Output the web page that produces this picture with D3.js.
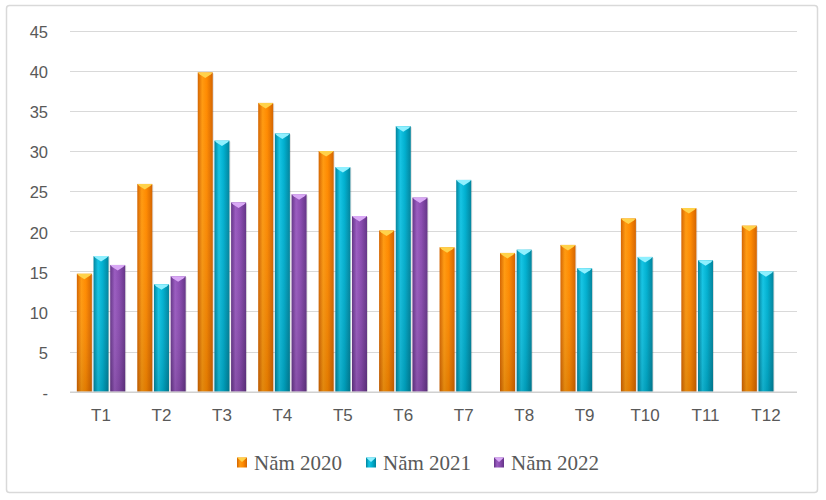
<!DOCTYPE html>
<html>
<head>
<meta charset="utf-8">
<script src="https://cdn.jsdelivr.net/npm/d3@7"></script>
<style>
  body { margin: 0; background: #fff; }
  svg { display: block; }
</style>
</head>
<body>
<svg id="chart"></svg>
<script>
const months = ['T1','T2','T3','T4','T5','T6','T7','T8','T9','T10','T11','T12']
const seriesNames = ['Năm 2020','Năm 2021','Năm 2022']
const y2020 = [14.7, 25.9, 39.8, 36.0, 30.0, 20.1, 18.0, 17.3, 18.3, 21.6, 22.9, 20.7]
const y2021 = [16.9, 13.4, 31.3, 32.2, 28.0, 33.1, 26.4, 17.7, 15.4, 16.8, 16.4, 15.0]
const y2022 = [15.8, 14.4, 23.6, 24.6, 21.9, 24.2, null, null, null, null, null, null]
const yTicks = [0, 5, 10, 15, 20, 25, 30, 35, 40, 45]

const series = [y2020, y2021, y2022]
const width = 826, height = 500

const palette = [
  { light: '#ff9a10', mid: '#ff8a00', dark: '#d46400', cap: '#ffd24a' },
  { light: '#14c4e4', mid: '#00b0d0', dark: '#00839c', cap: '#8ff0ff' },
  { light: '#9a5cc0', mid: '#8a4cb0', dark: '#643487', cap: '#d9a8f5' }
]

const svg = d3.select('#chart')
              .attr('width', width)
              .attr('height', height)

const defs = svg.append('defs')
palette.forEach((c, i) => {
  const g = defs.append('linearGradient').attr('id', 'grad' + i)
                .attr('x1', 0).attr('x2', 1).attr('y1', 0).attr('y2', 0)
  g.append('stop').attr('offset', '0%').attr('stop-color', c.dark)
  g.append('stop').attr('offset', '30%').attr('stop-color', c.light)
  g.append('stop').attr('offset', '60%').attr('stop-color', c.mid)
  g.append('stop').attr('offset', '100%').attr('stop-color', c.dark)
  const v = defs.append('linearGradient').attr('id', 'shade' + i)
                .attr('x1', 0).attr('x2', 0).attr('y1', 0).attr('y2', 1)
  v.append('stop').attr('offset', '0%').attr('stop-color', '#fff').attr('stop-opacity', 0)
  v.append('stop').attr('offset', '100%').attr('stop-color', '#000').attr('stop-opacity', 0.12)
})

// outer frame
svg.append('rect')
   .attr('x', 6.5).attr('y', 5.5)
   .attr('width', 811).attr('height', 487)
   .attr('rx', 3)
   .attr('fill', '#fff')
   .attr('stroke', '#d9d9d9')
   .attr('stroke-width', 1.5)

const x = d3.scaleBand()
            .domain(months)
            .range([70.8, 796.2])
            .paddingInner(0.2)
            .paddingOuter(0.1)

const xs = d3.scaleBand()
             .domain(d3.range(series.length))
             .range([0, x.bandwidth()])
             .paddingInner(0.1)

const y = d3.scaleLinear()
            .domain([0, 45])
            .range([391.7, 30.7])

// grid
svg.append('g')
   .selectAll('line')
   .data(yTicks.filter(d => d > 0))
   .join('line')
   .attr('x1', 70).attr('x2', 797)
   .attr('y1', d => Math.round(y(d)) + 0.5)
   .attr('y2', d => Math.round(y(d)) + 0.5)
   .attr('stroke', '#d9d9d9')
   .attr('stroke-width', 1)

// y axis labels
const yAxis = svg.append('g')
   .attr('transform', 'translate(48,1.5)')
   .call(d3.axisLeft(y).tickValues(yTicks).tickSize(0).tickPadding(0)
           .tickFormat(d => d === 0 ? '-' : d))
yAxis.select('.domain').remove()
yAxis.selectAll('text')
     .attr('font-family', 'Liberation Sans, Arial, sans-serif')
     .attr('font-size', 16.5)
     .attr('fill', '#595959')

// bars
const groups = svg.append('g')
   .selectAll('g')
   .data(months)
   .join('g')
   .attr('transform', d => `translate(${x(d)},0)`)

groups.each(function(m, mi) {
  const g = d3.select(this)
  series.forEach((s, si) => {
    const v = s[mi]
    if (v == null) return
    const bx = xs(si), bw = xs.bandwidth()
    const top = y(v), bottom = y(0)
    g.append('rect')
     .attr('x', bx + 1).attr('y', top + 1)
     .attr('width', bw).attr('height', bottom - top - 1)
     .attr('fill', '#000').attr('opacity', 0.12)
    g.append('rect')
     .attr('x', bx).attr('y', top)
     .attr('width', bw).attr('height', bottom - top)
     .attr('fill', `url(#grad${si})`)
    g.append('rect')
     .attr('x', bx).attr('y', top)
     .attr('width', bw).attr('height', bottom - top)
     .attr('fill', `url(#shade${si})`)
    g.append('path')
     .attr('d', `M${bx},${top} L${bx + bw},${top} L${bx + bw - 2},${top + 2} L${bx + bw / 2},${top + 5.5} L${bx + 2},${top + 2} Z`)
     .attr('fill', palette[si].cap)
  })
})

// baseline
svg.append('line')
   .attr('x1', 70).attr('x2', 797)
   .attr('y1', y(0) + 0.5).attr('y2', y(0) + 0.5)
   .attr('stroke', '#d0d0d0')
   .attr('stroke-width', 1.5)

// x axis labels
const xAxis = svg.append('g')
   .attr('transform', 'translate(0,409)')
   .call(d3.axisBottom(x).tickSize(0).tickPadding(0))
xAxis.select('.domain').remove()
xAxis.selectAll('text')
     .attr('font-family', 'Liberation Sans, Arial, sans-serif')
     .attr('font-size', 17)
     .attr('fill', '#595959')

// legend
const legendX = [237, 366, 494]
const legend = svg.append('g')
   .selectAll('g')
   .data(seriesNames)
   .join('g')
   .attr('transform', (d, i) => `translate(${legendX[i]},457.5)`)
legend.append('rect')
   .attr('width', 10).attr('height', 10)
   .attr('fill', (d, i) => `url(#grad${i})`)
legend.append('path')
   .attr('d', 'M0,0 L10,0 L5,4.5 Z')
   .attr('fill', (d, i) => palette[i].cap)
legend.append('text')
   .attr('x', 17).attr('y', 12.3)
   .attr('font-family', 'Liberation Serif, DejaVu Serif, serif')
   .attr('font-size', 21)
   .attr('fill', '#595959')
   .text(d => d)
</script>
</body>
</html>
